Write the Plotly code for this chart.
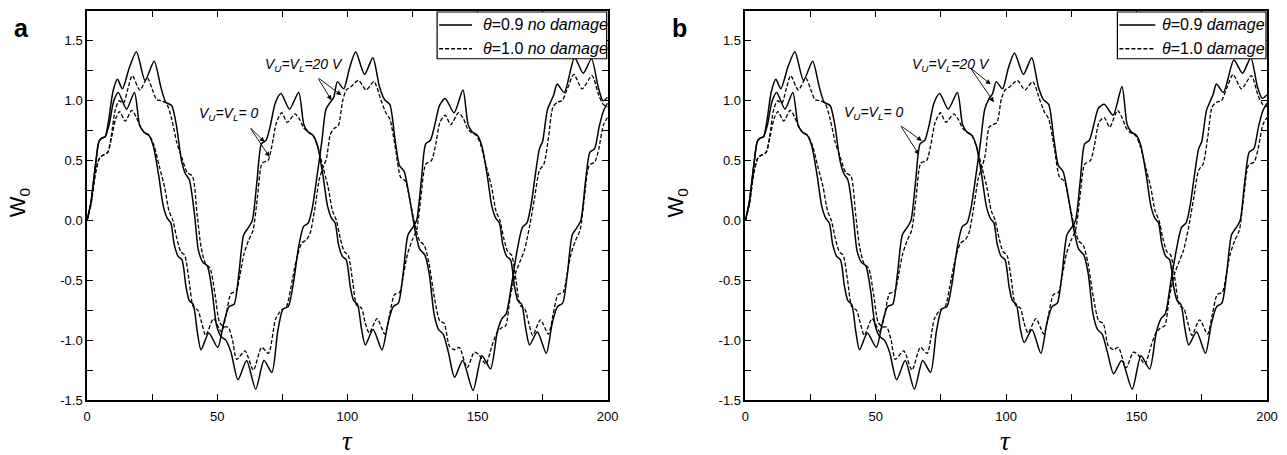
import plotly.graph_objects as go

# ---------------- data ----------------
# V_U=V_L=20V, theta=0.9 (solid, large amplitude)
TAU_LS = [0, 1.5, 3.3, 4.6, 5.8, 7.0, 8.2, 10.0, 11.7, 13.6,
          16.3, 19.0, 22.3, 25.8, 28.3, 30.2, 32.5, 34.3, 36.3, 37.8,
          39.3, 41.3, 42.8, 44.5, 46.2, 48.0, 49.8, 51.5, 53.3, 55.3,
          58.0, 61.3, 64.8, 68.0, 71.0, 73.3, 75.3, 77.3, 79.3, 81.3,
          83.2, 85.0, 86.5, 88.3, 90.2, 91.8, 93.5, 94.8, 96.2, 98.6,
          100.8, 103.2, 106.6, 109.8, 112.3, 114.3, 116.3, 118.3, 120.0, 121.8,
          123.8, 126.0, 127.8, 129.8, 131.5, 133.3, 135.0, 136.8, 138.8, 141.2,
          144.3, 148.3, 151.7, 155.0, 157.6, 159.4, 161.0, 163.2, 165.3, 167.2,
          169.0, 170.5, 172.2, 173.8, 175.0, 176.8, 178.3, 179.3, 180.6, 183.3,
          187.3, 190.6, 193.8, 196.3, 198.2, 200]
W_A_LS = [0, 0.15, 0.47, 0.66, 0.69, 0.70, 0.82, 1.08, 1.18, 1.10,
          1.28, 1.41, 1.17, 1.33, 1.12, 0.99, 0.96, 0.80, 0.50, 0.39,
          0.34, 0.05, -0.25, -0.35, -0.38, -0.58, -0.88, -0.97, -1.00, -1.10,
          -1.33, -1.17, -1.41, -1.17, -1.27, -0.92, -0.74, -0.72, -0.52, -0.22,
          -0.05, -0.02, 0.10, 0.36, 0.66, 0.93, 0.99, 1.03, 1.16, 1.10,
          1.27, 1.41, 1.22, 1.36, 1.12, 1.01, 0.97, 0.68, 0.46, 0.41,
          0.20, -0.08, -0.24, -0.29, -0.45, -0.78, -0.91, -0.95, -1.10, -1.31,
          -1.17, -1.42, -1.13, -1.24, -0.93, -0.82, -0.78, -0.52, -0.24, -0.06,
          -0.02, 0.12, 0.38, 0.60, 0.66, 0.92, 1.00, 1.05, 1.14, 1.07,
          1.36, 1.23, 1.35, 1.12, 1.00, 1.03]
W_B_LS = [0, 0.15, 0.47, 0.66, 0.69, 0.70, 0.82, 1.08, 1.18, 1.10,
          1.28, 1.41, 1.17, 1.33, 1.12, 0.99, 0.96, 0.80, 0.50, 0.39,
          0.34, 0.05, -0.25, -0.35, -0.38, -0.58, -0.88, -0.97, -1.00, -1.10,
          -1.33, -1.17, -1.41, -1.17, -1.27, -0.92, -0.74, -0.72, -0.52, -0.22,
          -0.05, -0.02, 0.10, 0.36, 0.66, 0.93, 1.02, 1.06, 1.16, 1.10,
          1.27, 1.40, 1.22, 1.36, 1.12, 1.01, 0.97, 0.68, 0.46, 0.41,
          0.20, -0.08, -0.24, -0.29, -0.45, -0.78, -0.91, -0.95, -1.10, -1.28,
          -1.17, -1.41, -1.13, -1.24, -0.93, -0.82, -0.78, -0.50, -0.24, -0.06,
          -0.02, 0.12, 0.38, 0.60, 0.66, 0.92, 1.00, 1.05, 1.14, 1.07,
          1.34, 1.23, 1.36, 1.12, 1.02, 1.05]

# V_U=V_L=20V, theta=1.0 (dashed, large amplitude)
TAU_LD = [0, 1.5, 3.3, 4.8, 6.5, 8.0, 9.3, 10.8, 12.3, 14.0,
          15.7, 17.4, 20.3, 23.2, 25.0, 26.7, 28.5, 30.5, 32.5, 34.5,
          36.5, 38.5, 40.5, 42.3, 43.8, 45.5, 47.3, 49.2, 50.9, 52.6,
          54.2, 55.9, 57.5, 60.7, 63.9, 67.1, 69.7, 72.5, 74.6, 76.6,
          78.4, 80.5, 82.5, 84.4, 85.8, 87.5, 89.3, 90.8, 92.0, 93.5,
          95.0, 96.5, 98.2, 99.6, 101.5, 104.3, 107.2, 110.2, 113.0, 114.8,
          116.3, 118.5, 120.5, 122.3, 124.2, 126.2, 127.8, 129.6, 131.3, 133.5,
          135.5, 137.2, 139.2, 141.2, 143.0, 146.0, 148.8, 150.5, 153.2, 155.5,
          157.2, 159.0, 160.8, 162.5, 164.5, 166.2, 168.0, 170.0, 172.0, 173.8,
          175.5, 177.3, 179.0, 180.8, 182.5, 184.5, 187.0, 190.2, 194.0, 196.5,
          198.3, 200]
W_A_LD = [0, 0.13, 0.40, 0.52, 0.55, 0.57, 0.70, 0.92, 1.00, 0.98,
          1.10, 1.21, 1.09, 1.19, 1.10, 1.01, 1.00, 0.98, 0.85, 0.65,
          0.52, 0.40, 0.37, 0.05, -0.22, -0.36, -0.40, -0.62, -0.85, -0.89,
          -0.89, -1.00, -1.16, -1.09, -1.25, -1.06, -1.11, -0.82, -0.75, -0.72,
          -0.55, -0.32, -0.19, -0.16, -0.10, 0.10, 0.35, 0.45, 0.52, 0.72,
          0.77, 0.79, 1.00, 1.09, 1.12, 1.17, 1.09, 1.16, 1.00, 0.90,
          0.85, 0.60, 0.36, 0.33, 0.15, -0.06, -0.17, -0.21, -0.35, -0.65,
          -0.84, -0.86, -1.05, -1.08, -1.06, -1.23, -1.10, -1.12, -1.20, -1.05,
          -0.95, -0.90, -0.88, -0.65, -0.45, -0.35, -0.25, -0.05, 0.20, 0.42,
          0.47, 0.70, 0.95, 0.99, 1.00, 1.10, 1.22, 1.10, 1.21, 1.05,
          0.97, 0.95]
W_B_LD = [0, 0.13, 0.40, 0.52, 0.55, 0.57, 0.70, 0.92, 1.00, 0.98,
          1.10, 1.21, 1.09, 1.19, 1.10, 1.01, 1.00, 0.98, 0.85, 0.65,
          0.52, 0.40, 0.37, 0.05, -0.22, -0.36, -0.40, -0.62, -0.85, -0.89,
          -0.89, -1.00, -1.16, -1.09, -1.25, -1.06, -1.11, -0.82, -0.75, -0.72,
          -0.55, -0.32, -0.19, -0.16, -0.10, 0.10, 0.35, 0.45, 0.55, 0.78,
          0.80, 0.82, 1.02, 1.09, 1.12, 1.17, 1.09, 1.16, 1.00, 0.90,
          0.85, 0.60, 0.36, 0.33, 0.15, -0.06, -0.17, -0.21, -0.35, -0.65,
          -0.84, -0.86, -1.05, -1.08, -1.06, -1.23, -1.10, -1.12, -1.20, -1.05,
          -0.95, -0.90, -0.88, -0.65, -0.45, -0.35, -0.25, -0.05, 0.20, 0.42,
          0.47, 0.70, 0.95, 0.99, 1.00, 1.10, 1.22, 1.10, 1.21, 1.05,
          0.97, 0.95]

# V_U=V_L=0, theta=0.9 (solid, smaller amplitude)
TAU_SS = [0, 1.5, 3.3, 4.6, 5.8, 7.0, 8.5, 10.3, 12.0, 15.2,
          18.2, 20.2, 21.8, 23.8, 25.5, 27.5, 29.3, 30.8, 32.2, 33.5,
          35.0, 36.5, 38.0, 39.3, 40.8, 42.3, 43.8, 46.8, 50.2, 52.5,
          54.5, 56.5, 58.3, 60.2, 62.0, 63.5, 65.3, 67.0, 68.8, 70.5,
          72.3, 74.5, 77.8, 81.3, 83.3, 84.9, 86.9, 88.6, 90.6, 92.4,
          93.9, 95.3, 96.6, 98.1, 99.6, 101.1, 102.4, 103.9, 105.4, 106.9,
          109.9, 113.3, 115.6, 117.6, 119.6, 121.4, 123.3, 125.1, 126.6, 128.4,
          130.1, 131.9, 133.6, 135.4, 137.6, 141.0, 144.4, 146.4, 148.0, 150.0,
          151.7, 153.7, 155.5, 157.0, 158.4, 159.7, 161.2, 162.7, 164.2, 165.5,
          167.0, 168.5, 170.0, 173.0, 176.4, 178.7, 180.7, 182.7, 184.5, 186.4,
          188.2, 189.7, 191.5, 193.2, 195.0, 196.7, 198.5, 200]
W_A_SS = [0, 0.15, 0.47, 0.66, 0.69, 0.70, 0.80, 1.00, 1.07, 0.93,
          1.07, 0.80, 0.74, 0.71, 0.62, 0.38, 0.12, 0.02, -0.02, -0.20,
          -0.30, -0.33, -0.55, -0.67, -0.70, -0.92, -1.08, -0.94, -1.06, -0.86,
          -0.72, -0.70, -0.45, -0.12, -0.06, 0.00, 0.33, 0.64, 0.67, 0.80,
          0.98, 1.06, 0.93, 1.07, 0.80, 0.74, 0.71, 0.62, 0.38, 0.12,
          0.02, -0.02, -0.20, -0.30, -0.33, -0.55, -0.67, -0.70, -0.90, -1.04,
          -0.91, -1.08, -0.86, -0.72, -0.69, -0.45, -0.12, -0.06, 0.00, 0.33,
          0.64, 0.67, 0.80, 0.96, 1.02, 0.90, 1.09, 0.80, 0.74, 0.71,
          0.62, 0.38, 0.12, 0.02, -0.02, -0.20, -0.30, -0.33, -0.55, -0.67,
          -0.70, -0.90, -1.04, -0.93, -1.11, -0.86, -0.72, -0.69, -0.45, -0.12,
          -0.06, 0.00, 0.33, 0.57, 0.60, 0.78, 0.92, 0.98]
W_B_SS = [0, 0.15, 0.47, 0.66, 0.69, 0.70, 0.80, 1.00, 1.07, 0.93,
          1.07, 0.80, 0.74, 0.71, 0.62, 0.38, 0.12, 0.02, -0.02, -0.20,
          -0.30, -0.33, -0.55, -0.67, -0.70, -0.92, -1.08, -0.94, -1.06, -0.86,
          -0.72, -0.70, -0.45, -0.12, -0.06, 0.00, 0.33, 0.64, 0.67, 0.80,
          0.98, 1.06, 0.93, 1.07, 0.80, 0.74, 0.71, 0.62, 0.38, 0.12,
          0.02, -0.02, -0.20, -0.30, -0.33, -0.55, -0.67, -0.70, -0.90, -1.02,
          -0.91, -1.11, -0.86, -0.72, -0.69, -0.45, -0.12, -0.06, 0.00, 0.33,
          0.64, 0.67, 0.80, 0.94, 0.97, 0.88, 1.12, 0.80, 0.74, 0.71,
          0.62, 0.38, 0.12, 0.02, -0.02, -0.20, -0.30, -0.33, -0.55, -0.67,
          -0.70, -0.90, -1.04, -0.93, -1.11, -0.86, -0.72, -0.69, -0.45, -0.12,
          -0.06, 0.00, 0.33, 0.57, 0.60, 0.78, 0.92, 0.98]

# V_U=V_L=0, theta=1.0 (dashed, smaller amplitude)
TAU_SD = [0, 1.5, 3.3, 4.8, 6.5, 8.0, 9.5, 11.0, 12.5, 14.7,
          17.2, 19.0, 20.5, 22.3, 24.0, 25.8, 27.8, 29.8, 31.5, 33.0,
          34.5, 36.0, 37.5, 39.2, 40.8, 42.6, 44.0, 45.6, 48.6, 51.6,
          53.5, 55.3, 57.3, 58.8, 60.3, 62.0, 63.8, 65.5, 67.3, 69.5,
          71.0, 72.8, 74.8, 76.9, 79.9, 81.8, 83.3, 85.1, 86.8, 88.6,
          90.6, 92.6, 94.3, 95.8, 97.3, 98.8, 100.3, 102.0, 103.6, 105.4,
          106.8, 108.4, 111.4, 114.4, 116.3, 118.1, 120.1, 121.6, 123.1, 124.8,
          126.6, 128.3, 130.1, 132.3, 133.8, 135.6, 137.6, 139.7, 142.7, 144.6,
          146.1, 147.9, 149.6, 151.4, 153.4, 155.4, 157.1, 158.6, 160.1, 161.6,
          163.1, 164.8, 166.4, 168.2, 169.6, 171.2, 174.2, 177.2, 179.1, 180.9,
          182.9, 184.4, 185.9, 187.6, 189.4, 191.1, 192.9, 195.1, 196.6, 198.4, 200]
W_A_SD = [0, 0.13, 0.40, 0.52, 0.55, 0.57, 0.70, 0.85, 0.91, 0.83,
          0.92, 0.86, 0.78, 0.73, 0.71, 0.62, 0.45, 0.28, 0.08, 0.00,
          -0.15, -0.26, -0.29, -0.50, -0.72, -0.75, -0.85, -0.96, -0.82, -0.93,
          -0.78, -0.61, -0.59, -0.45, -0.28, -0.17, -0.08, 0.20, 0.48, 0.50,
          0.62, 0.82, 0.90, 0.82, 0.89, 0.84, 0.77, 0.74, 0.71, 0.62,
          0.45, 0.28, 0.08, 0.00, -0.15, -0.26, -0.29, -0.50, -0.71, -0.73,
          -0.85, -0.94, -0.82, -0.95, -0.78, -0.62, -0.60, -0.45, -0.28, -0.17,
          -0.08, 0.20, 0.47, 0.50, 0.62, 0.82, 0.88, 0.80, 0.90, 0.85,
          0.77, 0.73, 0.71, 0.62, 0.45, 0.28, 0.08, 0.00, -0.15, -0.26,
          -0.29, -0.50, -0.71, -0.74, -0.85, -0.96, -0.83, -0.95, -0.78, -0.62,
          -0.60, -0.45, -0.28, -0.17, -0.08, 0.20, 0.46, 0.49, 0.60, 0.80, 0.86]
W_B_SD = [0, 0.13, 0.40, 0.52, 0.55, 0.57, 0.70, 0.85, 0.91, 0.83,
          0.92, 0.86, 0.78, 0.73, 0.71, 0.62, 0.45, 0.28, 0.08, 0.00,
          -0.15, -0.26, -0.29, -0.50, -0.72, -0.75, -0.85, -0.96, -0.82, -0.93,
          -0.78, -0.61, -0.59, -0.45, -0.28, -0.17, -0.08, 0.20, 0.48, 0.50,
          0.62, 0.82, 0.90, 0.82, 0.89, 0.84, 0.77, 0.74, 0.71, 0.62,
          0.45, 0.28, 0.08, 0.00, -0.15, -0.26, -0.29, -0.50, -0.71, -0.73,
          -0.85, -0.94, -0.82, -0.95, -0.78, -0.62, -0.60, -0.45, -0.28, -0.17,
          -0.08, 0.20, 0.47, 0.50, 0.62, 0.82, 0.86, 0.78, 0.92, 0.85,
          0.77, 0.73, 0.71, 0.62, 0.45, 0.28, 0.08, 0.00, -0.15, -0.26,
          -0.29, -0.50, -0.71, -0.74, -0.85, -0.96, -0.83, -0.95, -0.78, -0.62,
          -0.60, -0.45, -0.28, -0.17, -0.08, 0.20, 0.46, 0.49, 0.60, 0.80, 0.86]

X_TICKS = [0, 50, 100, 150, 200]
X_TICKTEXT = ["0", "50", "100", "150", "200"]
Y_TICKS = [-1.5, -1.0, -0.5, 0.0, 0.5, 1.0, 1.5]
Y_TICKTEXT = ["-1.5", "-1.0", "-0.5", "0.0", "0.5", "1.0", "1.5"]

LEG_A = ["<i>θ</i>=0.9 <i>no damage</i>", "<i>θ</i>=1.0 <i>no damage</i>"]
LEG_B = ["<i>θ</i>=0.9 <i>damage</i>", "<i>θ</i>=1.0 <i>damage</i>"]

for t, w in [(TAU_LS, W_A_LS), (TAU_LS, W_B_LS), (TAU_LD, W_A_LD), (TAU_LD, W_B_LD),
             (TAU_SS, W_A_SS), (TAU_SS, W_B_SS), (TAU_SD, W_A_SD), (TAU_SD, W_B_SD)]:
    assert len(t) == len(w), (len(t), len(w))

# ---------------- figure ----------------
fig = go.Figure()
DASH = "4px,2px"
SOLID = dict(color="black", width=1.5, shape="spline", smoothing=0.7)
DASHED = dict(color="black", width=1.3, dash=DASH, shape="spline", smoothing=0.7)

panels = [
    ("x", "y", LEG_A, W_A_LS, W_A_LD, W_A_SS, W_A_SD),
    ("x2", "y2", LEG_B, W_B_LS, W_B_LD, W_B_SS, W_B_SD),
]
for xa, ya, names, wls, wld, wss, wsd in panels:
    fig.add_trace(go.Scatter(x=TAU_LS, y=wls, mode="lines", line=SOLID, name=names[0],
                             showlegend=False, xaxis=xa, yaxis=ya))
    fig.add_trace(go.Scatter(x=TAU_SS, y=wss, mode="lines", line=SOLID, name=names[0],
                             showlegend=False, xaxis=xa, yaxis=ya))
    fig.add_trace(go.Scatter(x=TAU_LD, y=wld, mode="lines", line=DASHED, name=names[1],
                             showlegend=False, xaxis=xa, yaxis=ya))
    fig.add_trace(go.Scatter(x=TAU_SD, y=wsd, mode="lines", line=DASHED, name=names[1],
                             showlegend=False, xaxis=xa, yaxis=ya))

FONT = "Liberation Sans, Arial, sans-serif"
axis_common = dict(showline=True, linecolor="black", linewidth=1.5, mirror="allticks",
                   ticks="inside", ticklen=6, tickwidth=1, tickcolor="black",
                   showgrid=False, zeroline=False,
                   tickfont=dict(family=FONT, size=13, color="black"))
xcommon = dict(axis_common, range=[0, 200], tickvals=X_TICKS, ticktext=X_TICKTEXT,
               ticklabelstandoff=4,
               minor=dict(tickvals=[25, 75, 125, 175], ticks="inside", ticklen=6,
                          tickcolor="black", showgrid=False))
ycommon = dict(axis_common, range=[-1.5, 1.75], tickvals=Y_TICKS, ticktext=Y_TICKTEXT,
               minor=dict(tickvals=[-1.25, -0.75, -0.25, 0.25, 0.75, 1.25],
                          ticks="inside", ticklen=6, tickcolor="black", showgrid=False))

W, H = 1287, 455
# plot frames in window pixels: x 87..609 and 747..1270, y 9..400
ML, MT = 87, 9
MR = W - 1270
MB = H - 400
PW = W - ML - MR
PH = H - MT - MB
def px(x):
    return (x - ML) / PW
def py(y):
    return (H - MB - y) / PH

xa_end = px(609)
xb_start = px(747)

fig.update_layout(
    width=W, height=H,
    margin=dict(l=ML, r=MR, t=MT, b=MB, pad=0),
    paper_bgcolor="white", plot_bgcolor="white",
    font=dict(family=FONT, color="black"),
    xaxis=dict(xcommon, domain=[0, xa_end], anchor="y"),
    yaxis=dict(ycommon, anchor="x"),
    xaxis2=dict(xcommon, domain=[xb_start, 1], anchor="y2"),
    yaxis2=dict(ycommon, anchor="x2"),
    showlegend=False,
)

ann = []
shapes = []
C = dict(xanchor="center", yanchor="middle", showarrow=False)
# panel letters
ann.append(dict(C, x=px(21), y=py(26), xref="paper", yref="paper", text="<b>a</b>",
                font=dict(family=FONT, size=25)))
ann.append(dict(C, x=px(681), y=py(26), xref="paper", yref="paper", text="<b>b</b>",
                font=dict(family=FONT, size=25)))
# axis titles
for cx in (19, 679):
    ann.append(dict(C, x=px(cx), y=py(202), xref="paper", yref="paper", text="W<sub>0</sub>",
                    textangle=-90, font=dict(family=FONT, size=22)))
for cx in (348, 1008):
    ann.append(dict(C, x=px(cx), y=py(441), xref="paper", yref="paper", text="<i>τ</i>",
                    font=dict(family="Liberation Serif, Times New Roman, serif", size=27)))

# legends (box, line samples, labels) drawn in window pixels
for (bx0, bx1, lx0, lx1, tx, names) in [(438, 608, 440, 473, 482, LEG_A),
                                        (1120, 1269, 1122, 1158, 1163, LEG_B)]:
    shapes.append(dict(type="rect", xref="paper", yref="paper", x0=px(bx0), x1=px(bx1),
                       y0=py(57), y1=py(10), line=dict(color="black", width=1.2),
                       fillcolor="white", layer="above"))
    for ry, name, dash in [(23, names[0], "solid"), (47, names[1], DASH)]:
        shapes.append(dict(type="line", xref="paper", yref="paper", x0=px(lx0), x1=px(lx1),
                           y0=py(ry), y1=py(ry), line=dict(color="black", width=1.4, dash=dash),
                           layer="above"))
        ann.append(dict(x=px(tx), y=py(ry), xref="paper", yref="paper", text=name,
                        xanchor="left", yanchor="middle", showarrow=False,
                        font=dict(family=FONT, size=16)))

TXT0 = "<i>V<sub>U</sub>=V<sub>L</sub>= 0</i>"
TXT20 = "<i>V<sub>U</sub>=V<sub>L</sub>=20 V</i>"
tfont = dict(family=FONT, size=14, color="black")
# panel a labels
ann.append(dict(C, x=54.2, y=0.89, xref="x", yref="y", text=TXT0, font=tfont))
ann.append(dict(C, x=83.5, y=1.30, xref="x", yref="y", text=TXT20, font=tfont))
# panel b labels
ann.append(dict(C, x=49.0, y=0.90, xref="x2", yref="y2", text=TXT0, font=tfont))
ann.append(dict(C, x=78.8, y=1.30, xref="x2", yref="y2", text=TXT20, font=tfont))

arrow = dict(text="", showarrow=True, arrowhead=2, arrowsize=1.1, arrowwidth=0.9,
             arrowcolor="black", axref="pixel", ayref="pixel")
# (tip tau, tip w, dx, dy, axis)
ARROWS = [(68.2, 0.656, -15, -15, "x", "y"), (70.1, 0.531, -20, -30, "x", "y"),
          (93.9, 1.004, -14, -23, "x", "y"), (97.7, 1.046, -24, -18, "x", "y"),
          (67.7, 0.664, -22, -16, "x2", "y2"), (66.6, 0.548, -19, -30, "x2", "y2"),
          (94.1, 1.137, -21, -17, "x2", "y2"), (95.3, 0.988, -24, -35, "x2", "y2")]
for tx, ty, dx, dy, xr, yr in ARROWS:
    ann.append(dict(arrow, x=tx, y=ty, xref=xr, yref=yr, ax=dx, ay=dy))

fig.update_layout(annotations=ann, shapes=shapes)
# the page's default 8 px body margin is removed so the figure fills the window
fig.write_html("out.html", config={"displayModeBar": False},
               post_script="document.body.style.margin='0px';")
